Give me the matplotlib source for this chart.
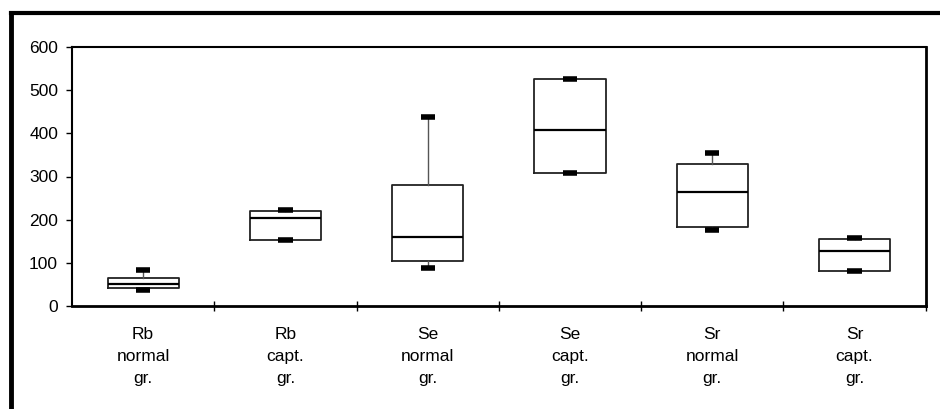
import matplotlib
matplotlib.use("Agg")
import matplotlib.pyplot as plt
from matplotlib.lines import Line2D
import numpy as np

plt.rcParams['font.family'] = ['Liberation Sans', 'DejaVu Sans']

categories = ["Rb\nnormal\ngr.", "Rb\ncapt.\ngr.", "Se\nnormal\ngr.",
              "Se\ncapt.\ngr.", "Sr\nnormal\ngr.", "Sr\ncapt.\ngr."]
whisker_low = [38, 153, 88, 308, 175, 81]
q1 = [41, 154, 104, 308, 183, 81]
median = [51, 203, 160, 408, 263, 128]
q3 = [66, 221, 280, 525, 329, 156]
whisker_high = [83, 222, 438, 525, 355, 157]
yticks = [0, 100, 200, 300, 400, 500, 600]

fig = plt.figure(figsize=(9.4, 4.09), dpi=100)
ax = fig.add_axes([72/940, 1-306/409, (925.7-72)/940, (306-47)/409])

stats = []
for lab, wl, a, m, b, wh in zip(categories, whisker_low, q1, median, q3, whisker_high):
    stats.append(dict(label=lab, whislo=wl, q1=a, med=m, q3=b, whishi=wh, fliers=[]))

positions = np.arange(len(categories))
ax.bxp(stats, positions=positions, widths=0.5, capwidths=0.1, showfliers=False,
       boxprops=dict(color='#222222', linewidth=1.3),
       medianprops=dict(color='black', linewidth=1.6),
       whiskerprops=dict(color='#555555', linewidth=1.0),
       capprops=dict(color='black', linewidth=4.0, solid_capstyle='butt'))

ax.set_xlim(-0.5, len(categories) - 0.5)
ax.set_ylim(0, 600)
ax.set_yticks(yticks)
ax.set_yticklabels([str(v) for v in yticks], fontsize=12.5)
ax.tick_params(axis='y', direction='out', length=4, width=1, pad=6, colors='black')

ax.set_xticks(np.arange(len(categories)) + 0.5)
ax.set_xticklabels([])
ax.tick_params(axis='x', which='major', direction='inout', length=7, width=1)
ax.set_xticks(positions, minor=True)
ax.set_xticklabels(categories, minor=True, fontsize=12.5, linespacing=1.58)
ax.tick_params(axis='x', which='minor', length=0, pad=15)

for side in ['left', 'top']:
    ax.spines[side].set_linewidth(1.5)
for side in ['right', 'bottom']:
    ax.spines[side].set_linewidth(2.0)

# outer frame lines (left and top)
fig.add_artist(Line2D([11/940, 11/940], [0, 1-13/409], transform=fig.transFigure,
                      color='black', linewidth=3.5, solid_capstyle='projecting'))
fig.add_artist(Line2D([11/940, 1], [1-13/409, 1-13/409], transform=fig.transFigure,
                      color='black', linewidth=3.0, solid_capstyle='projecting'))

fig.savefig("out.png", dpi=100, facecolor='white')
